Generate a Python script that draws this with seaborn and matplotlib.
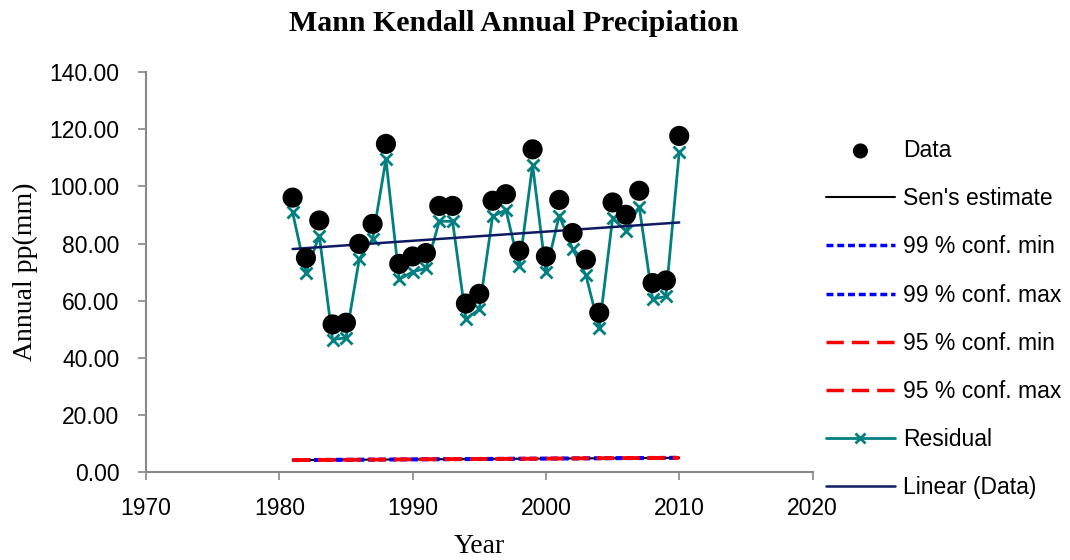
import numpy as np
import pandas as pd
import seaborn as sns
import matplotlib.pyplot as plt

years = list(range(1981, 2011))
data = [96.1, 75.0, 88.1, 51.7, 52.3, 79.9, 86.9, 114.9, 72.9, 75.5,
        76.7, 93.2, 93.2, 59.0, 62.4, 95.0, 97.3, 77.5, 113.0, 75.5,
        95.3, 83.7, 74.4, 55.8, 94.4, 90.1, 98.5, 66.2, 67.1, 117.7]
residual = [90.9, 69.7, 82.8, 46.4, 47.0, 74.6, 81.6, 109.5, 67.5, 70.1,
            71.3, 87.8, 87.8, 53.6, 57.0, 89.5, 91.8, 72.0, 107.5, 70.0,
            89.8, 78.2, 68.9, 50.3, 88.8, 84.5, 92.9, 60.6, 61.5, 112.1]

# straight lines, end points only
line_years = [1981, 2010]
sen = [4.2, 5.0]
conf99_min = [4.1, 4.9]
conf99_max = [4.3, 5.1]
conf95_min = [4.15, 4.95]
conf95_max = [4.25, 5.05]
linear = [78.1, 87.4]

df = pd.DataFrame({"Year": years, "Data": data, "Residual": residual})
lines = pd.DataFrame({"Year": line_years, "sen": sen, "c99min": conf99_min,
                      "c99max": conf99_max, "c95min": conf95_min,
                      "c95max": conf95_max, "linear": linear})

sns.set_style("white")
plt.rcParams['font.family'] = ['Liberation Sans', 'DejaVu Sans']
plt.rcParams['text.color'] = 'black'
plt.rcParams['axes.labelcolor'] = 'black'

fig = plt.figure(figsize=(10.7, 5.6), dpi=100)
ax = fig.add_axes([0.1364, 0.157, 0.623, 0.714])

sns.lineplot(data=lines, x="Year", y="sen", color="black", lw=1.5,
             label="Sen's estimate", ax=ax, zorder=2)
sns.lineplot(data=lines, x="Year", y="c99min", color="blue", lw=2.5,
             linestyle=(0, (2, 1.1)), label="99 % conf. min", ax=ax, zorder=3)
sns.lineplot(data=lines, x="Year", y="c99max", color="blue", lw=2.5,
             linestyle=(0, (2, 1.1)), label="99 % conf. max", ax=ax, zorder=3)
sns.lineplot(data=lines, x="Year", y="c95min", color="red", lw=2.5,
             linestyle=(0, (5, 2.3)), label="95 % conf. min", ax=ax, zorder=4)
sns.lineplot(data=lines, x="Year", y="c95max", color="red", lw=2.5,
             linestyle=(0, (5, 2.3)), label="95 % conf. max", ax=ax, zorder=4)
sns.lineplot(data=df, x="Year", y="Residual", color="#008080", lw=2,
             marker="x", markersize=9, markeredgewidth=2, markeredgecolor="#008080",
             label="Residual", ax=ax, zorder=5)
sns.lineplot(data=lines, x="Year", y="linear", color="#0d1a63", lw=1.8,
             label="Linear (Data)", ax=ax, zorder=5)
sns.scatterplot(data=df, x="Year", y="Data", color="black", s=210,
                edgecolor="none", label="Data", ax=ax, zorder=6)

ax.set_xlim(1970, 2020)
ax.set_ylim(0, 140)
ax.set_xticks(np.arange(1970, 2021, 10))
ax.set_yticks(np.arange(0, 141, 20))
ax.set_yticklabels([f"{v:.2f}" for v in np.arange(0, 141, 20)])
ax.tick_params(axis="both", labelsize=16.5, length=6, width=1.2, color="#888888",
               labelcolor="black", direction="out", bottom=True, left=True)
ax.tick_params(axis="x", pad=12)
ax.tick_params(axis="y", pad=13)
for s in ["top", "right"]:
    ax.spines[s].set_visible(False)
for s in ["left", "bottom"]:
    ax.spines[s].set_color("#888888")
    ax.spines[s].set_linewidth(1.5)

ax.set_xlabel("Year", family="Liberation Serif", fontsize=20, labelpad=10)
ax.set_ylabel("Annual pp(mm)", family="Liberation Serif", fontsize=20, labelpad=8)
fig.text(0.48, 0.958, "Mann Kendall Annual Precipiation", family="Liberation Serif",
         fontsize=21.5, fontweight="bold", ha="center", va="center")

h, l = ax.get_legend_handles_labels()
order = ["Data", "Sen's estimate", "99 % conf. min", "99 % conf. max",
         "95 % conf. min", "95 % conf. max", "Residual", "Linear (Data)"]
hd = dict(zip(l, h))
ax.legend([hd[k] for k in order], order, loc="center left",
          bbox_to_anchor=(0.772, 0.43), bbox_transform=fig.transFigure,
          frameon=False, fontsize=16.5, handlelength=3.0, handletextpad=0.35,
          labelspacing=1.10, borderpad=0, borderaxespad=0, markerscale=0.75)

fig.savefig("out.png", dpi=100)
